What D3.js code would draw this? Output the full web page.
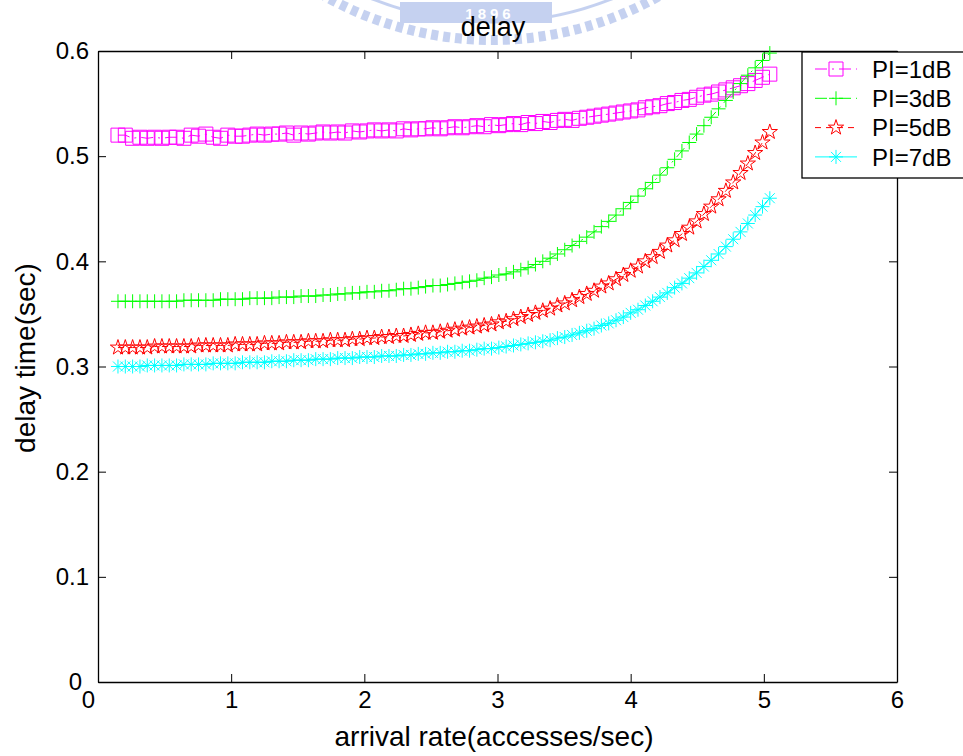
<!DOCTYPE html>
<html>
<head>
<meta charset="utf-8">
<style>
  body { margin: 0; background: #fff; }
  svg { display: block; }
  text { font-family: "Liberation Sans", Arial, sans-serif; fill: #000; }
</style>
</head>
<body>
<script src="https://d3js.org/d3.v7.min.js"></script>
<script>
// arrival rate (accesses/sec)
const arrivalRate = [0.15,0.205,0.26,0.315,0.37,0.425,0.48,0.535,0.59,0.645,
  0.7,0.755,0.81,0.865,0.92,0.975,1.03,1.085,1.14,1.195,
  1.25,1.305,1.36,1.415,1.47,1.525,1.58,1.635,1.69,1.745,
  1.8,1.855,1.91,1.965,2.02,2.075,2.13,2.185,2.24,2.295,
  2.35,2.405,2.46,2.515,2.57,2.625,2.68,2.735,2.79,2.845,
  2.9,2.955,3.01,3.065,3.12,3.175,3.23,3.285,3.34,3.395,
  3.45,3.505,3.56,3.615,3.67,3.725,3.78,3.835,3.89,3.945,
  4,4.055,4.11,4.165,4.22,4.275,4.33,4.385,4.44,4.495,
  4.55,4.605,4.66,4.715,4.77,4.825,4.88,4.935,4.99,5.045];

const delayPI1 = [0.520,0.520,0.517,0.518,0.517,0.518,0.517,0.518,0.518,0.517,
  0.520,0.519,0.521,0.518,0.517,0.520,0.519,0.519,0.520,0.521,
  0.520,0.521,0.521,0.522,0.520,0.522,0.521,0.522,0.523,0.522,
  0.523,0.522,0.524,0.523,0.524,0.525,0.524,0.525,0.524,0.526,
  0.525,0.526,0.526,0.527,0.526,0.527,0.528,0.527,0.528,0.529,
  0.528,0.530,0.529,0.530,0.531,0.530,0.532,0.531,0.533,0.532,
  0.534,0.535,0.534,0.536,0.537,0.538,0.539,0.540,0.541,0.542,
  0.543,0.544,0.546,0.547,0.548,0.550,0.551,0.553,0.554,0.556,
  0.558,0.559,0.561,0.563,0.565,0.567,0.569,0.572,0.575,0.578];

const delayPI3 = [0.362,0.362,0.362,0.362,0.362,0.362,0.362,0.362,0.362,0.363,
  0.363,0.363,0.363,0.363,0.364,0.364,0.364,0.364,0.365,0.365,
  0.365,0.365,0.366,0.366,0.366,0.367,0.367,0.367,0.368,0.368,
  0.369,0.369,0.370,0.370,0.371,0.371,0.372,0.372,0.373,0.374,
  0.374,0.375,0.376,0.377,0.377,0.378,0.379,0.380,0.381,0.382,
  0.384,0.385,0.387,0.388,0.390,0.392,0.394,0.397,0.400,0.403,
  0.407,0.411,0.415,0.419,0.423,0.428,0.433,0.438,0.444,0.450,
  0.456,0.462,0.469,0.475,0.482,0.489,0.497,0.505,0.513,0.521,
  0.529,0.537,0.545,0.553,0.561,0.569,0.577,0.584,0.591,0.598];

const delayPI5 = [0.318,0.318,0.318,0.318,0.318,0.319,0.319,0.319,0.319,0.319,
  0.319,0.320,0.320,0.320,0.320,0.320,0.321,0.321,0.321,0.321,
  0.322,0.322,0.322,0.323,0.323,0.323,0.324,0.324,0.324,0.325,
  0.325,0.325,0.326,0.326,0.327,0.327,0.328,0.328,0.329,0.329,
  0.330,0.331,0.332,0.332,0.333,0.334,0.335,0.336,0.337,0.338,
  0.339,0.340,0.342,0.343,0.345,0.347,0.349,0.351,0.353,0.355,
  0.358,0.360,0.363,0.366,0.369,0.372,0.376,0.379,0.383,0.387,
  0.391,0.395,0.400,0.404,0.409,0.415,0.420,0.426,0.432,0.438,
  0.445,0.452,0.459,0.467,0.475,0.484,0.493,0.503,0.513,0.523];

const delayPI7 = [0.300,0.300,0.300,0.300,0.301,0.301,0.301,0.301,0.301,0.302,
  0.302,0.302,0.302,0.303,0.303,0.303,0.303,0.304,0.304,0.304,
  0.304,0.305,0.305,0.305,0.306,0.306,0.306,0.307,0.307,0.307,
  0.308,0.308,0.308,0.309,0.309,0.309,0.310,0.310,0.310,0.311,
  0.311,0.312,0.312,0.313,0.313,0.314,0.314,0.315,0.315,0.316,
  0.317,0.317,0.318,0.319,0.320,0.321,0.322,0.323,0.324,0.325,
  0.327,0.328,0.330,0.332,0.334,0.336,0.339,0.341,0.344,0.347,
  0.351,0.354,0.358,0.362,0.366,0.370,0.375,0.379,0.384,0.389,
  0.395,0.401,0.407,0.414,0.421,0.428,0.436,0.444,0.452,0.460];

const seriesNames = ["PI=1dB", "PI=3dB", "PI=5dB", "PI=7dB"];
const xTicks = [0, 1, 2, 3, 4, 5, 6];
const yTicks = [0, 0.1, 0.2, 0.3, 0.4, 0.5, 0.6];

const series = [
  {name: seriesNames[0], values: delayPI1, color: "#ff00ff", marker: "square",   dash: "12,5,2,5"},
  {name: seriesNames[1], values: delayPI3, color: "#00ff00", marker: "plus",     dash: "12,5,2,5"},
  {name: seriesNames[2], values: delayPI5, color: "#ff0000", marker: "star",     dash: "6,5"},
  {name: seriesNames[3], values: delayPI7, color: "#00ffff", marker: "asterisk", dash: null}
];

const W = 963, H = 756;
const plotLeft = 98, plotRight = 897, plotTop = 51, plotBottom = 682;

const svg = d3.select("body").append("svg")
  .attr("width", W)
  .attr("height", H);

// faint logo watermark behind the title
const wm = svg.append("g").attr("opacity", 0.4);
wm.append("circle").attr("cx", 492).attr("cy", -300).attr("r", 340)
  .attr("fill", "none").attr("stroke", "#6f8fdc").attr("stroke-width", 10)
  .attr("stroke-dasharray", "7,5");
wm.append("circle").attr("cx", 492).attr("cy", -300).attr("r", 322)
  .attr("fill", "none").attr("stroke", "#6f8fdc").attr("stroke-width", 3);
wm.append("rect").attr("x", 400).attr("y", 2).attr("width", 152).attr("height", 21)
  .attr("fill", "#6f8fdc");
wm.append("text").attr("x", 490).attr("y", 19).attr("text-anchor", "middle")
  .style("font-size", "15px").style("font-weight", "bold").style("fill", "#fff")
  .style("letter-spacing", "4px")
  .text("1896");

const x = d3.scaleLinear().domain([0, 6]).range([plotLeft, plotRight]);
const y = d3.scaleLinear().domain([0, 0.6]).range([plotBottom, plotTop]);

function markerPath(type) {
  if (type === "square") return "M-7,-7H7V7H-7Z";
  if (type === "plus") return "M-7,0H7M0,-7V7";
  if (type === "asterisk") return "M-7,0H7M0,-7V7M-5,-5L5,5M-5,5L5,-5";
  return d3.symbol(d3.symbolStar, 72)();
}

// axes box, MATLAB style with ticks pointing in
function styleAxis(g) {
  g.selectAll("path.domain").attr("stroke", "#000").attr("stroke-width", 1.3);
  g.selectAll(".tick line").attr("stroke", "#000");
  g.selectAll(".tick text").style("font-size", "24px").attr("fill", "#000")
    .style("font-family", "'Liberation Sans', Arial, sans-serif");
}

const xAxisG = svg.append("g").attr("transform", "translate(0," + plotBottom + ")")
  .call(d3.axisBottom(x).tickValues(xTicks).tickSize(-8).tickSizeOuter(0).tickPadding(9)
    .tickFormat(d => String(d)))
  .call(styleAxis);
svg.append("g").attr("transform", "translate(0," + plotTop + ")")
  .call(d3.axisTop(x).tickValues(xTicks).tickSize(-8).tickSizeOuter(0).tickFormat(""))
  .call(styleAxis);
const yAxisG = svg.append("g").attr("transform", "translate(" + plotLeft + ",0)")
  .call(d3.axisLeft(y).tickValues(yTicks).tickSize(-8).tickSizeOuter(0).tickPadding(9)
    .tickFormat(d => String(d)))
  .call(styleAxis);
svg.append("g").attr("transform", "translate(" + plotRight + ",0)")
  .call(d3.axisRight(y).tickValues(yTicks).tickSize(-8).tickSizeOuter(0).tickFormat(""))
  .call(styleAxis);

// MATLAB nudges the two "0" labels apart at the corner
xAxisG.selectAll(".tick text").filter(d => d === 0).attr("dx", -10);
yAxisG.selectAll(".tick text").filter(d => d === 0).attr("dx", -7);

// curves
const line = d3.line()
  .x((d, i) => x(arrivalRate[i]))
  .y(d => y(d));

series.forEach(function (s) {
  const g = svg.append("g");
  g.append("path")
    .attr("d", line(s.values))
    .attr("fill", "none")
    .attr("stroke", s.color)
    .attr("stroke-width", 1)
    .attr("stroke-dasharray", s.dash);
  g.selectAll("path.mk")
    .data(s.values)
    .enter()
    .append("path")
    .attr("class", "mk")
    .attr("d", markerPath(s.marker))
    .attr("transform", (d, i) => "translate(" + x(arrivalRate[i]) + "," + y(d) + ")")
    .attr("fill", "none")
    .attr("stroke", s.color)
    .attr("stroke-width", 1);
});

// title and axis labels
svg.append("text").attr("x", 493).attr("y", 36).attr("text-anchor", "middle")
  .style("font-size", "27px").text("delay");
svg.append("text").attr("x", 494).attr("y", 746).attr("text-anchor", "middle")
  .style("font-size", "28px").text("arrival rate(accesses/sec)");
svg.append("text").attr("transform", "translate(35,358) rotate(-90)")
  .attr("text-anchor", "middle")
  .style("font-size", "28px").text("delay time(sec)");

// legend
const legend = svg.append("g");
legend.append("rect")
  .attr("x", 802).attr("y", 52).attr("width", 175).attr("height", 126)
  .attr("fill", "#fff").attr("stroke", "#000").attr("stroke-width", 1.3);

const rows = legend.selectAll("g.row")
  .data(series)
  .enter()
  .append("g")
  .attr("class", "row")
  .attr("transform", (d, i) => "translate(0," + (69 + i * 29.3) + ")");
rows.append("line")
  .attr("x1", 815).attr("x2", 857)
  .attr("stroke", d => d.color).attr("stroke-width", 1)
  .attr("stroke-dasharray", d => d.dash);
rows.append("path")
  .attr("d", d => markerPath(d.marker))
  .attr("transform", "translate(836,0)")
  .attr("fill", "none").attr("stroke", d => d.color);
rows.append("text")
  .attr("x", 872).attr("dy", "0.36em")
  .style("font-size", "24px")
  .text(d => d.name);
</script>
</body>
</html>
